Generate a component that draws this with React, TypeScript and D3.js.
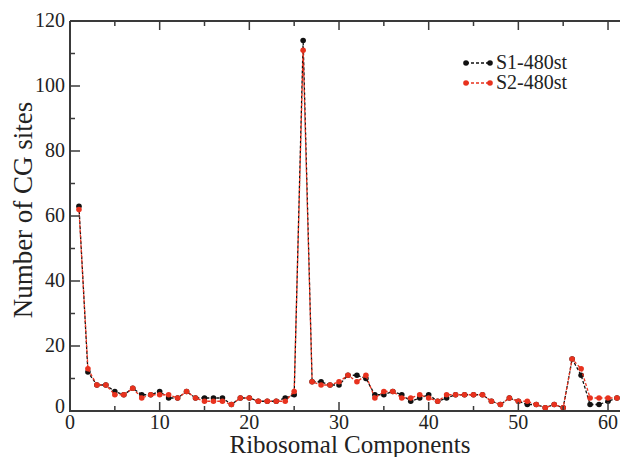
import React from 'react'
import * as d3 from 'd3'

// Ribosomal component index 1..61
const components = d3.range(1, 62)

// S1-480st (black)
const s1Values = [
  63, 12, 8, 8, 6, 5, 7, 5, 5, 6, 4, 4, 6, 4, 4, 4, 4, 2, 4, 4,
  3, 3, 3, 4, 5, 114, 9, 9, 8, 8, 11, 11, 10, 5, 5, 6, 5, 3, 4, 5,
  3, 4, 5, 5, 5, 5, 3, 2, 4, 3, 2, 2, 1, 2, 1, 16, 11, 2, 2, 3, 4
]

// S2-480st (red)
const s2Values = [
  62, 13, 8, 8, 5, 5, 7, 4, 5, 5, 5, 4, 6, 4, 3, 3, 3, 2, 4, 4,
  3, 3, 3, 3, 6, 111, 9, 8, 8, 9, 11, 9, 11, 4, 6, 6, 4, 4, 5, 4,
  3, 5, 5, 5, 5, 5, 3, 2, 4, 3, 3, 2, 1, 2, 1, 16, 13, 4, 4, 4, 4
]

const seriesNames = ['S1-480st', 'S2-480st']
const seriesColors = ['#111111', '#e8321e']

const xMajor = [0, 10, 20, 30, 40, 50, 60]
const xMinor = [5, 15, 25, 35, 45, 55]
const yMajor = [0, 20, 40, 60, 80, 100, 120]
const yMinor = [10, 30, 50, 70, 90, 110]

const W = 620
const H = 457
const left = 70
const top = 21
const bottom = 411

const App = () => {
  const x = d3.scaleLinear().domain([0, 62]).range([left, left + 62 * 8.967])
  const y = d3.scaleLinear().domain([0, 120]).range([bottom, top])
  const right = x(62)

  const line = d3
    .line<number>()
    .x((_, i) => x(components[i]))
    .y((d) => y(d))

  const font = "'Liberation Serif', 'Times New Roman', Times, serif"
  const axisColor = '#3a3a3a'
  const series = [s1Values, s2Values]

  return (
    <svg
      width={W}
      height={H}
      style={{ position: 'absolute', left: 0, top: 0, background: '#fff', fontFamily: font }}
    >
      <rect x={0} y={0} width={W} height={H} fill="#fff" />

      {/* data */}
      {series.map((vals, si) => (
        <g key={si}>
          <path
            d={line(vals) || ''}
            fill="none"
            stroke={seriesColors[si]}
            strokeWidth={1.3}
            strokeDasharray="3,2"
          />
          {vals.map((v, i) => (
            <circle key={i} cx={x(components[i])} cy={y(v)} r={2.8} fill={seriesColors[si]} />
          ))}
        </g>
      ))}

      {/* frame */}
      <path
        d={`M${left},${top}H${right}M${left},${top}V${bottom}H${right}`}
        fill="none"
        stroke={axisColor}
        strokeWidth={2}
      />

      {/* x ticks bottom & top */}
      {xMajor.map((t) => (
        <g key={'xM' + t}>
          {t > 0 && <line x1={x(t)} x2={x(t)} y1={bottom} y2={bottom - 9} stroke={axisColor} strokeWidth={1.5} />}
          {t > 0 && <line x1={x(t)} x2={x(t)} y1={top} y2={top + 9} stroke={axisColor} strokeWidth={1.5} />}
          <text x={x(t)} y={429} textAnchor="middle" fontSize={20} fill="#222">
            {t}
          </text>
        </g>
      ))}
      {xMinor.map((t) => (
        <g key={'xm' + t}>
          <line x1={x(t)} x2={x(t)} y1={bottom} y2={bottom - 5} stroke={axisColor} strokeWidth={1.5} />
          <line x1={x(t)} x2={x(t)} y1={top} y2={top + 5} stroke={axisColor} strokeWidth={1.5} />
        </g>
      ))}

      {/* y ticks */}
      {yMajor.map((t) => (
        <g key={'yM' + t}>
          {t > 0 && t < 120 && <line x1={left} x2={left + 10} y1={y(t)} y2={y(t)} stroke={axisColor} strokeWidth={1.5} />}
          <text x={65} y={t === 0 ? y(t) + 2 : y(t) + 6} textAnchor="end" fontSize={20} fill="#222">
            {t}
          </text>
        </g>
      ))}
      {yMinor.map((t) => (
        <line key={'ym' + t} x1={left} x2={left + 5} y1={y(t)} y2={y(t)} stroke={axisColor} strokeWidth={1.5} />
      ))}

      {/* axis titles */}
      <text x={350} y={453} textAnchor="middle" fontSize={25} fill="#222">
        Ribosomal Components
      </text>
      <text
        transform={`translate(32,${210}) rotate(-90)`}
        textAnchor="middle"
        fontSize={27}
        fill="#222"
      >
        Number of CG sites
      </text>

      {/* legend */}
      {seriesNames.map((name, i) => (
        <g key={name} transform={`translate(0,${63 + i * 20})`}>
          <line x1={466} x2={490} y1={0} y2={0} stroke={seriesColors[i]} strokeWidth={1.3} strokeDasharray="3,2" />
          <circle cx={466} cy={0} r={2.8} fill={seriesColors[i]} />
          <circle cx={490} cy={0} r={2.8} fill={seriesColors[i]} />
          <text x={496} y={6} fontSize={20} fill="#222">
            {name}
          </text>
        </g>
      ))}
    </svg>
  )
}

export default App
